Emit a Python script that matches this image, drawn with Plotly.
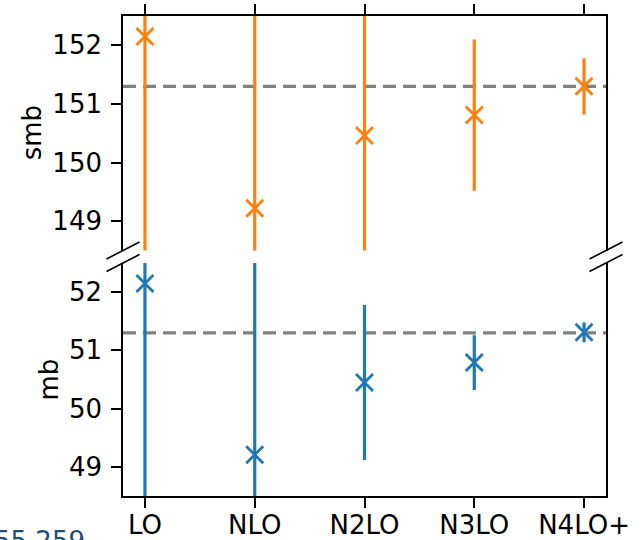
import plotly.graph_objects as go

# ---------------- data ----------------
categories = ["LO", "NLO", "N2LO", "N3LO", "N4LO+"]
smb_values = [152.15, 149.22, 150.46, 150.81, 151.30]
smb_errors = [10.0, 9.0, 3.6, 1.29, 0.48]
mb_values = [52.15, 49.21, 50.45, 50.79, 51.31]
mb_errors = [4.0, 3.5, 1.33, 0.47, 0.17]
smb_reference = 151.3
mb_reference = 51.3
smb_ticks = [149, 150, 151, 152]
mb_ticks = [49, 50, 51, 52]
smb_range = [148.5, 152.5]
mb_range = [48.5, 52.5]
footer_text = "55.259"

ORANGE = "#ff7f0e"
BLUE = "#1f77b4"
FONT = "DejaVu Sans"
FS = 26

W, H = 641, 540
ML, MR, MT, MB = 123, 35, 16, 44
plot_h = H - MT - MB
top_dom = [1 - (250.5 - MT) / plot_h, 1.0]
bot_dom = [0.0, 1 - (263 - MT) / plot_h]

fig = go.Figure()

def add_series(vals, errs, color, xa, ya):
    fig.add_trace(go.Scatter(
        x=categories, y=vals, mode="markers",
        xaxis=xa, yaxis=ya,
        marker=dict(symbol="x-thin", size=17, color=color,
                    line=dict(color=color, width=2.8)),
        error_y=dict(type="data", array=errs, visible=True, width=0,
                     thickness=3.2, color=color),
        showlegend=False, hoverinfo="skip",
    ))

add_series(smb_values, smb_errors, ORANGE, "x2", "y2")
add_series(mb_values, mb_errors, BLUE, "x", "y")

axis_common = dict(showgrid=False, zeroline=False, showline=True,
                   automargin=False,
                   linecolor="black", linewidth=1.6, ticks="outside",
                   ticklen=10, tickwidth=1.6, tickcolor="black",
                   tickfont=dict(family=FONT, size=FS, color="black"))

fig.update_layout(
    template="none",
    width=W, height=H,
    margin=dict(l=ML, r=MR, t=MT, b=MB, pad=0),
    paper_bgcolor="white", plot_bgcolor="white",
    xaxis=dict(domain=[0, 1], anchor="y", type="category",
               range=[-0.2, 4.2], side="bottom", ticklabelstandoff=-5,
               **axis_common),
    yaxis=dict(domain=bot_dom, anchor="x", range=mb_range,
               tickvals=mb_ticks, mirror=True, ticklabelstandoff=4,
               **axis_common),
    xaxis2=dict(domain=[0, 1], anchor="y2", type="category",
                range=[-0.2, 4.2], side="top", matches="x",
                showticklabels=False, **axis_common),
    yaxis2=dict(domain=top_dom, anchor="x2", range=smb_range,
                tickvals=smb_ticks, mirror=True, ticklabelstandoff=4,
                **axis_common),
)

# reference dashed lines
for ref, yref in ((smb_reference, "y2"), (mb_reference, "y")):
    fig.add_shape(type="line", xref="x domain", yref=yref,
                  x0=0, x1=1, y0=ref, y1=ref, layer="below",
                  line=dict(color="#808080", width=3.2, dash="13px,7px"))

# broken-axis diagonal marks
for xa in (0, 1):
    for ya in (top_dom[0], bot_dom[1]):
        fig.add_shape(type="line", xref="paper", yref="paper",
                      xsizemode="pixel", ysizemode="pixel",
                      xanchor=xa, yanchor=ya,
                      x0=-16.5, x1=16.5, y0=-8.5, y1=8.5,
                      line=dict(color="black", width=1.6))

# axis titles
fig.add_annotation(text="smb", xref="paper", yref="paper", x=0,
                   y=(top_dom[0] + top_dom[1]) / 2, xshift=32 - ML,
                   xanchor="center", yanchor="middle",
                   textangle=-90, showarrow=False,
                   font=dict(family=FONT, size=FS, color="black"))
fig.add_annotation(text="mb", xref="paper", yref="paper", x=0,
                   y=(bot_dom[0] + bot_dom[1]) / 2, xshift=48 - ML,
                   xanchor="center", yanchor="middle",
                   textangle=-90, showarrow=False,
                   font=dict(family=FONT, size=FS, color="black"))

# cut-off footer text
fig.add_annotation(text=footer_text, xref="paper", yref="paper", x=0,
                   y=0, xanchor="left", yanchor="top",
                   xshift=-ML - 8, yshift=-28, showarrow=False,
                   font=dict(family=FONT, size=FS, color="#1f4b7a"))

fig.write_html("out.html")
